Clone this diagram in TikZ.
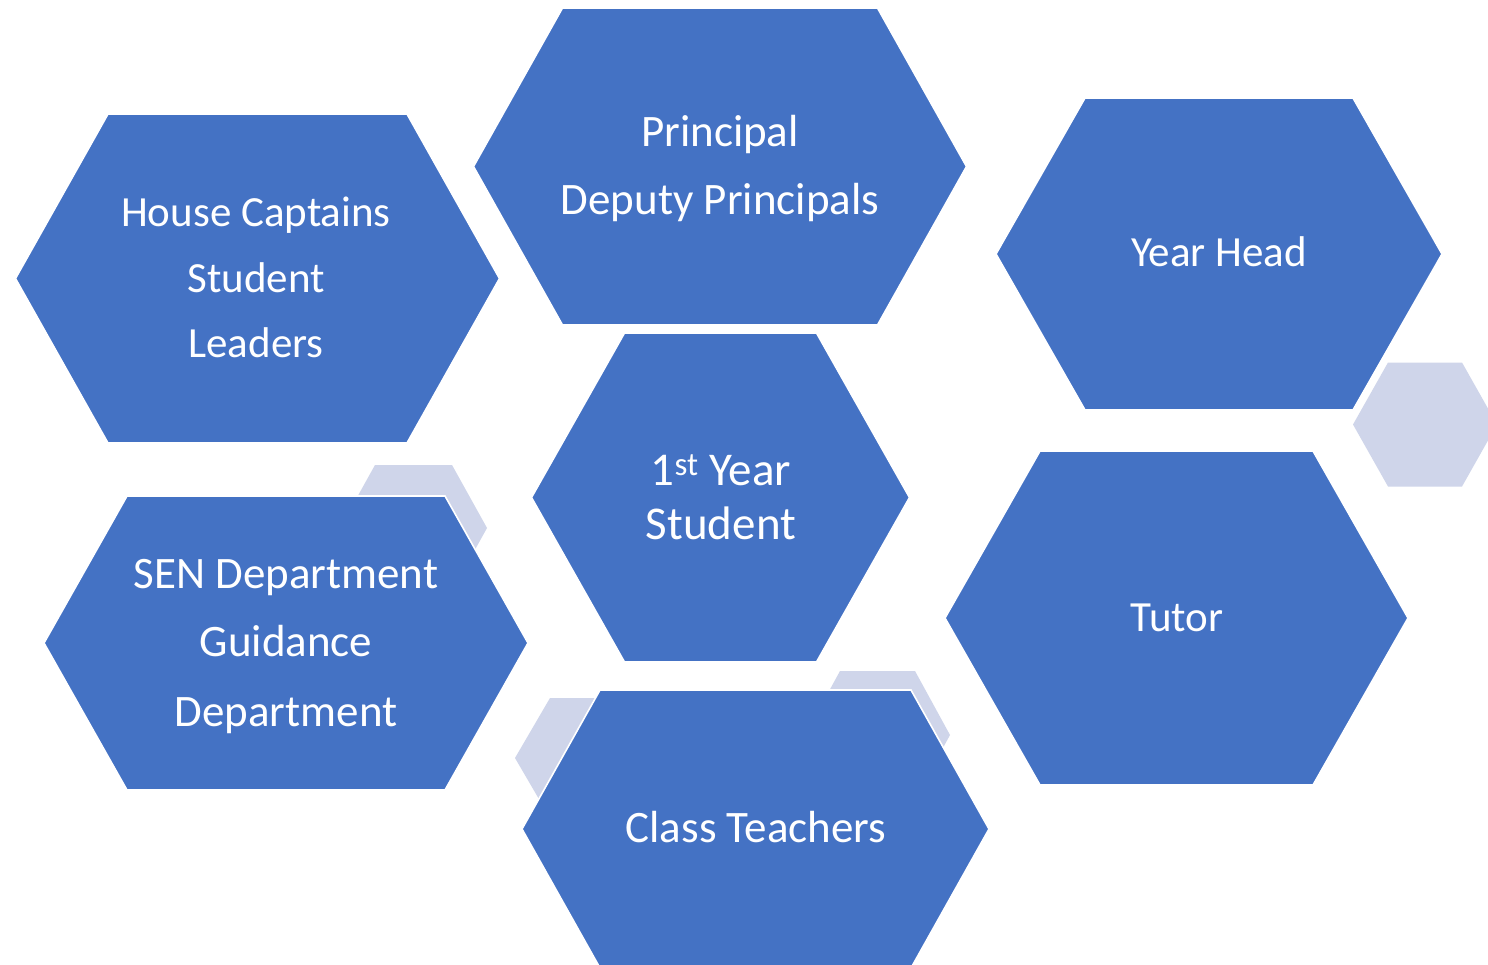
\documentclass[tikz,border=0pt]{standalone}
\usepackage{fontspec}
\setmainfont{Carlito}
\definecolor{hexblue}{HTML}{4472C4}
\definecolor{hexlight}{HTML}{CFD5EA}
\newcommand\hexshape[6]{%
  \path[#1] (#2-#4,#3-#6) -- (#2+#4,#3-#6) -- (#2+#4+#5,#3) -- (#2+#4,#3+#6)
    -- (#2-#4,#3+#6) -- (#2-#4-#5,#3) -- cycle;}
\tikzset{
  bluehex/.style={fill=hexblue, draw=white, line width=1.6pt, line join=miter},
  lighthex/.style={fill=hexlight},
  lbl/.style={text=white, font=\fontsize{45}{52}\selectfont, anchor=base, inner sep=0pt},
  lblsm/.style={lbl, font=\fontsize{43}{50}\selectfont},
  lblbig/.style={lbl, font=\fontsize{47}{54}\selectfont}
}
\begin{document}
\begin{tikzpicture}[x=1pt,y=-1pt]
\useasboundingbox (0,0) rectangle (1488,964);
\clip (0,0) rectangle (1488,964);
\fill[white] (0,0) rectangle (1488,964);
% light decorative hexagons
\hexshape{lighthex}{413.5}{528}{38.5}{35}{63}
\hexshape{lighthex}{588}{758}{38}{35}{60}
\hexshape{lighthex}{877.5}{735}{37.5}{35}{64}
\hexshape{lighthex}{1425}{424.5}{37}{35}{62}
% blue hexagons
\hexshape{bluehex}{257.5}{278.5}{149.5}{92.5}{164.5}
\hexshape{bluehex}{720}{166.5}{157.5}{89}{158.5}
\hexshape{bluehex}{1219}{254}{134}{89}{156}
\hexshape{bluehex}{720.5}{497.5}{96}{93}{164.5}
\hexshape{bluehex}{286}{643}{159}{83}{147}
\hexshape{bluehex}{1176.5}{618}{136.5}{95}{167}
\hexshape{bluehex}{755.5}{829}{155.5}{78}{139}
% labels
\node[lblsm] (hc1) at (256,226) {House Captains};
\node[lblsm] (hc2) at (256,292) {Student};
\node[lblsm] (hc3) at (256,357) {Leaders};
\node[lbl] (pr1) at (720,146) {Principal};
\node[lbl] (pr2) at (720,214) {Deputy Principals};
\node[lblsm] (yh) at (1219,266) {Year Head};
\node[lblbig] (fy1) at (721,485) {1\textsuperscript{st} Year};
\node[lblbig] (fy2) at (721,539) {Student};
\node[lbl] (sen1) at (286,588) {SEN Department};
\node[lbl] (sen2) at (286,656) {Guidance};
\node[lbl] (sen3) at (286,726) {Department};
\node[lblsm] (tu) at (1177,631) {Tutor};
\node[lbl] (ct) at (756,842) {Class Teachers};
\end{tikzpicture}
\end{document}
